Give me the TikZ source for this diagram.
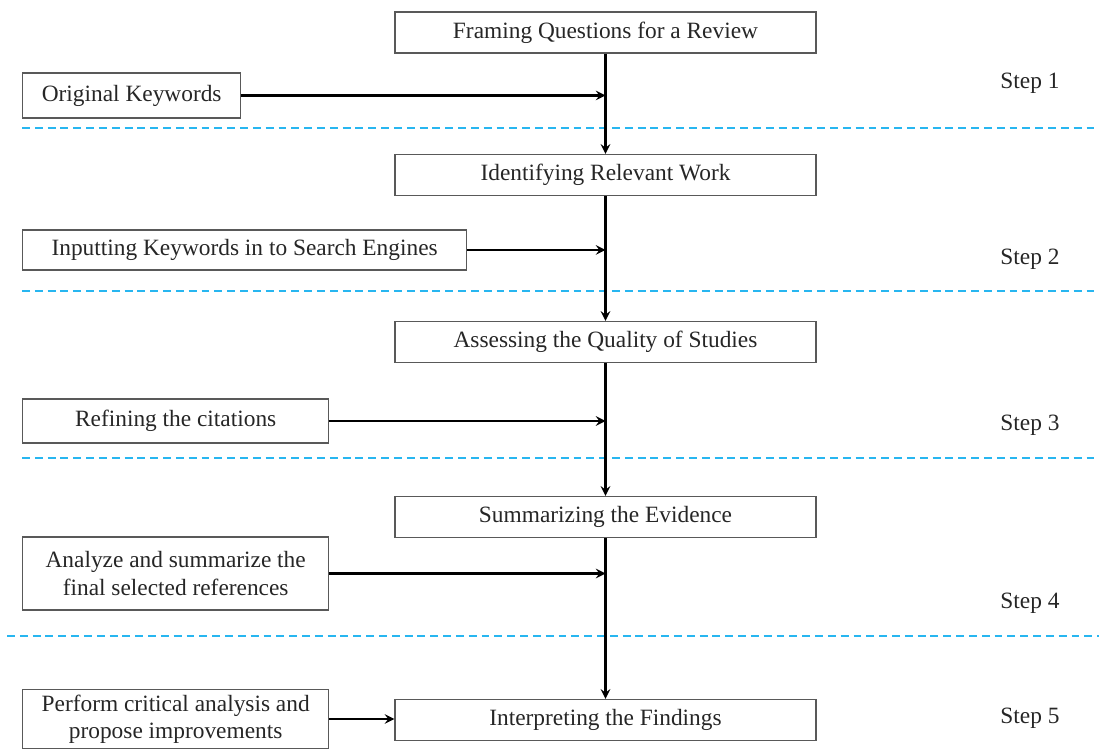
\documentclass[tikz,border=0pt]{standalone}
\usepackage{fontspec}
\setmainfont{Liberation Serif}
\usepackage{xcolor}
\usetikzlibrary{arrows, positioning}
\definecolor{sepblue}{RGB}{40,182,240}

\begin{document}
\begin{tikzpicture}[
    x=0.02cm, y=-0.02cm,
    every node/.style={font=\fontsize{13.3}{15.4}\selectfont, text=black!85},
    mainblock/.style={rectangle, draw=black!65, line width=0.8pt, minimum width=8.42cm, minimum height=0.82cm, inner sep=0pt},
    sideblock/.style={rectangle, draw=black!65, line width=0.8pt, anchor=west, align=center, inner sep=0pt},
    arrow/.style={->, >=stealth, line width=1.4pt},
    sep/.style={dash pattern=on 4.5pt off 2.8pt, line width=1.1pt, color=sepblue}
]
\useasboundingbox (0,0) rectangle (1099,749);

\node[mainblock] (framing) at (605.5,32.5) {Framing Questions for a Review};
\node[mainblock] (identify) at (605.5,175) {Identifying Relevant Work};
\node[mainblock] (assess) at (605.5,342) {Assessing the Quality of Studies};
\node[mainblock] (summarize) at (605.5,517) {Summarizing the Evidence};
\node[mainblock] (interpret) at (605.5,720) {Interpreting the Findings};

% Side inputs
\node[sideblock, minimum width=4.36cm, minimum height=0.9cm] (keywords) at (22,95.5) {Original Keywords};
\node[sideblock, minimum width=8.88cm, minimum height=0.8cm] (search) at (22,250) {Inputting Keywords in to Search Engines};
\node[sideblock, minimum width=6.12cm, minimum height=0.88cm] (refine) at (22,421) {Refining the citations};
\node[sideblock, minimum width=6.12cm, minimum height=1.46cm] (analyze) at (22,573.5) {Analyze and summarize the\\final selected references};
\node[sideblock, minimum width=6.12cm, minimum height=1.18cm] (critical) at (22,719) {Perform critical analysis and\\propose improvements};

% Step labels
\node (step1) at (1030,83) {Step 1};
\node (step2) at (1030,259) {Step 2};
\node (step3) at (1030,425) {Step 3};
\node (step4) at (1030,603) {Step 4};
\node (step5) at (1030,718) {Step 5};

% Separators
\draw[sep] (22,128) -- (1099,128);
\draw[sep] (22,291) -- (1099,291);
\draw[sep] (22,458) -- (1099,458);
\draw[sep] (7,636) -- (1099,636);

\draw[arrow] (framing) -- (identify);
\draw[arrow] (identify) -- (assess);
\draw[arrow] (assess) -- (summarize);
\draw[arrow] (summarize) -- (interpret);

\draw[arrow] (keywords) -- (keywords -| framing.south);
\draw[arrow] (search) -- (search -| identify.south);
\draw[arrow] (refine) -- (refine -| assess.south);
\draw[arrow] (analyze) -- (analyze -| summarize.south);
\draw[arrow] (critical) -- (critical -| interpret.west);
\end{tikzpicture}
\end{document}
